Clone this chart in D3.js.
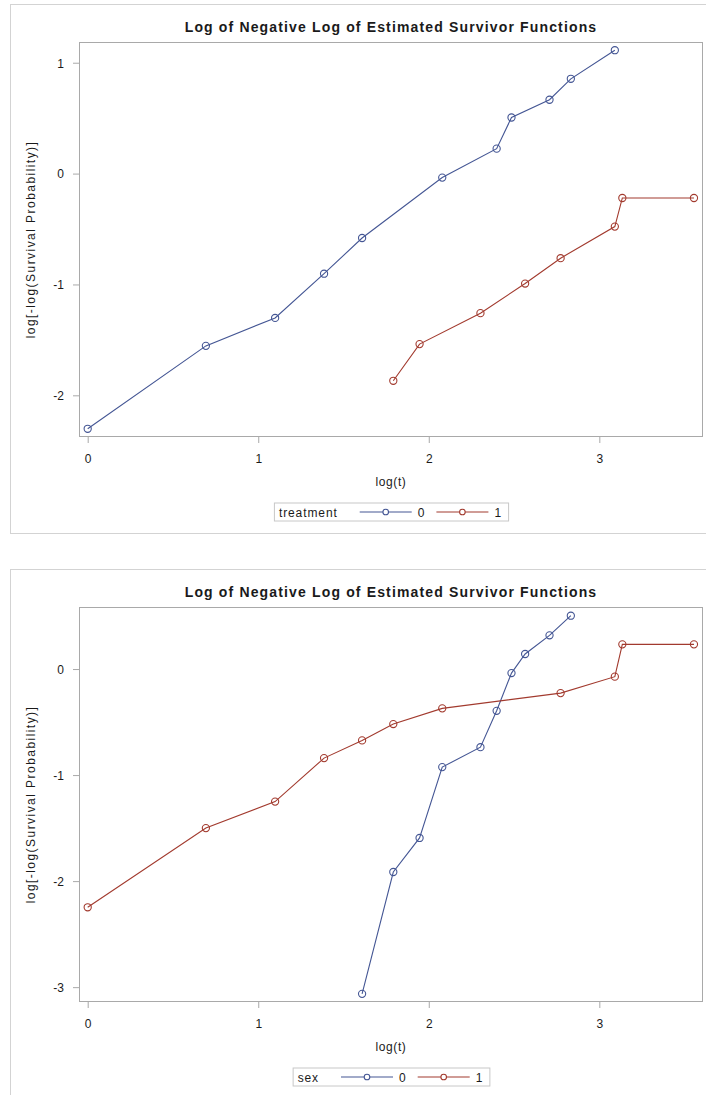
<!DOCTYPE html>
<html>
<head>
<meta charset="utf-8">
<script src="https://cdn.jsdelivr.net/npm/d3@7"></script>
<style>
  html, body { margin: 0; padding: 0; background: #fff; }
  svg { display: block; }
  text { font-family: "Liberation Sans", Arial, sans-serif; fill: #1a1a1a; }
</style>
</head>
<body>
<svg id="chart" width="706" height="1095"></svg>
<script>
// ---- data: log(t) and log[-log(S(t))] by group ----
const chartTitle = "Log of Negative Log of Estimated Survivor Functions";
const xAxisLabel = "log(t)";
const yAxisLabel = "log[-log(Survival Probability)]";
const groupLevels = ["0", "1"];
const xTicks = [0, 1, 2, 3];

// treatment panel
const treatVar = "treatment";
const treat0LogT = [0, 0.693, 1.099, 1.386, 1.609, 2.079, 2.398, 2.485, 2.708, 2.833, 3.091];
const treat0LogLogS = [-2.302, -1.554, -1.302, -0.903, -0.581, -0.036, 0.225, 0.506, 0.666, 0.855, 1.113];
const treat1LogT = [1.792, 1.946, 2.303, 2.565, 2.773, 3.091, 3.135, 3.555];
const treat1LogLogS = [-1.869, -1.538, -1.259, -0.992, -0.763, -0.478, -0.220, -0.220];
const treatYTicks = [-2, -1, 0, 1];
const treatYRange = [-2.376, 1.187];

// sex panel
const sexVar = "sex";
const sex0LogT = [1.609, 1.792, 1.946, 2.079, 2.303, 2.398, 2.485, 2.565, 2.708, 2.833];
const sex0LogLogS = [-3.063, -1.914, -1.593, -0.925, -0.737, -0.394, -0.038, 0.142, 0.318, 0.503];
const sex1LogT = [0, 0.693, 1.099, 1.386, 1.609, 1.792, 2.079, 2.773, 3.091, 3.135, 3.555];
const sex1LogLogS = [-2.247, -1.500, -1.250, -0.840, -0.673, -0.519, -0.371, -0.227, -0.072, 0.233, 0.233];
const sexYTicks = [-3, -2, -1, 0];
const sexYRange = [-3.140, 0.585];

const xRange = [-0.051, 3.608];

// ---- styling ----
const groupColors = ["#445694", "#A23A2E"];
const frameColor = "#a9a9a9";
const panelBorder = "#d3d3d3";

const svg = d3.select("#chart");

function zip(xs, ys) { return xs.map((x, i) => ({ x, y: ys[i] })); }

function drawPanel(opt) {
  const g = svg.append("g");
  const left = 79, right = 703;
  const top = opt.top, bottom = opt.top + 395;

  // outer panel border (runs past the right edge)
  g.append("rect")
    .attr("x", 10.5).attr("y", opt.panelTop + 0.5)
    .attr("width", 760).attr("height", 529)
    .attr("fill", "none").attr("stroke", panelBorder);

  const x = d3.scaleLinear().domain(xRange).range([left, right]);
  const y = d3.scaleLinear().domain(opt.yRange).range([bottom, top]);

  // title
  g.append("text")
    .attr("x", (left + right) / 2).attr("y", top - 10)
    .attr("text-anchor", "middle")
    .style("font-weight", "bold").style("font-size", "14px")
    .style("letter-spacing", "1.15px")
    .text(chartTitle);

  // axes
  const xAxis = d3.axisBottom(x).tickValues(xTicks).tickFormat(d3.format("d"))
    .tickSizeInner(6).tickSizeOuter(0).tickPadding(11);
  const gx = g.append("g").attr("transform", `translate(0,${bottom})`).call(xAxis);
  const yAxis = d3.axisLeft(y).tickValues(opt.yTicks).tickFormat(d => d3.format("d")(d).replace("−", "-"))
    .tickSizeInner(6).tickSizeOuter(0).tickPadding(9);
  const gy = g.append("g").attr("transform", `translate(${left},0)`).call(yAxis);
  [gx, gy].forEach(a => {
    a.select(".domain").remove();
    a.selectAll(".tick line").attr("stroke", frameColor);
    a.selectAll(".tick text").style("font-size", "12px").style("font-family", null).attr("fill", "#1a1a1a");
  });
  gy.selectAll(".tick text").attr("dy", "0.36em");

  // plot frame
  g.append("rect")
    .attr("x", left + 0.5).attr("y", top + 0.5)
    .attr("width", right - left - 1).attr("height", bottom - top - 1)
    .attr("fill", "none").attr("stroke", frameColor);

  // axis labels
  g.append("text")
    .attr("x", (left + right) / 2).attr("y", bottom + 49)
    .attr("text-anchor", "middle").style("font-size", "12px")
    .style("letter-spacing", "0.6px")
    .text(xAxisLabel);
  g.append("text")
    .attr("transform", `translate(35,${(top + bottom) / 2}) rotate(-90)`)
    .attr("text-anchor", "middle").style("font-size", "12px")
    .style("letter-spacing", "1.45px")
    .text(yAxisLabel);

  // series
  const line = d3.line().x(d => x(d.x)).y(d => y(d.y));
  opt.series.forEach((pts, i) => {
    const s = g.append("g");
    s.append("path").attr("d", line(pts))
      .attr("fill", "none").attr("stroke", groupColors[i]).attr("stroke-width", 1.1);
    s.selectAll("circle").data(pts).join("circle")
      .attr("cx", d => x(d.x)).attr("cy", d => y(d.y)).attr("r", 3.6)
      .attr("fill", "none").attr("stroke", groupColors[i]).attr("stroke-width", 1.1);
  });

  // legend
  const lg = g.append("g");
  const ly = bottom + 75;
  const box = lg.append("rect").attr("y", ly - 9).attr("height", 18)
    .attr("fill", "#fff").attr("stroke", "#c8c8c8");
  let cx = 0;
  const t0 = lg.append("text").attr("x", cx).attr("y", ly + 4.5)
    .style("font-size", "12px").style("letter-spacing", "0.9px").text(opt.legendTitle);
  cx += t0.node().getComputedTextLength() + 22;
  groupLevels.forEach((lv, i) => {
    lg.append("line").attr("x1", cx).attr("x2", cx + 52).attr("y1", ly).attr("y2", ly)
      .attr("stroke", groupColors[i]).attr("stroke-width", 1.1);
    lg.append("circle").attr("cx", cx + 26).attr("cy", ly).attr("r", 2.8)
      .attr("fill", "#fff").attr("stroke", groupColors[i]).attr("stroke-width", 1.1);
    cx += 58;
    const t = lg.append("text").attr("x", cx).attr("y", ly + 4.5)
      .style("font-size", "12px").text(lv);
    cx += t.node().getComputedTextLength() + (i === 0 ? 12 : 0);
  });
  const pad = 5, padR = 7;
  const total = cx + pad + padR;
  const bx = (left + right) / 2 - total / 2;
  box.attr("x", bx + 0.5).attr("width", total);
  lg.selectAll("text, line, circle").each(function () {
    const el = d3.select(this);
    if (this.tagName === "text") el.attr("x", +el.attr("x") + bx + pad);
    else if (this.tagName === "line") el.attr("x1", +el.attr("x1") + bx + pad).attr("x2", +el.attr("x2") + bx + pad);
    else el.attr("cx", +el.attr("cx") + bx + pad);
  });
}

drawPanel({
  panelTop: 4, top: 42,
  yRange: treatYRange, yTicks: treatYTicks,
  legendTitle: treatVar,
  series: [zip(treat0LogT, treat0LogLogS), zip(treat1LogT, treat1LogLogS)]
});
drawPanel({
  panelTop: 569, top: 607,
  yRange: sexYRange, yTicks: sexYTicks,
  legendTitle: sexVar,
  series: [zip(sex0LogT, sex0LogLogS), zip(sex1LogT, sex1LogLogS)]
});
</script>
</body>
</html>
